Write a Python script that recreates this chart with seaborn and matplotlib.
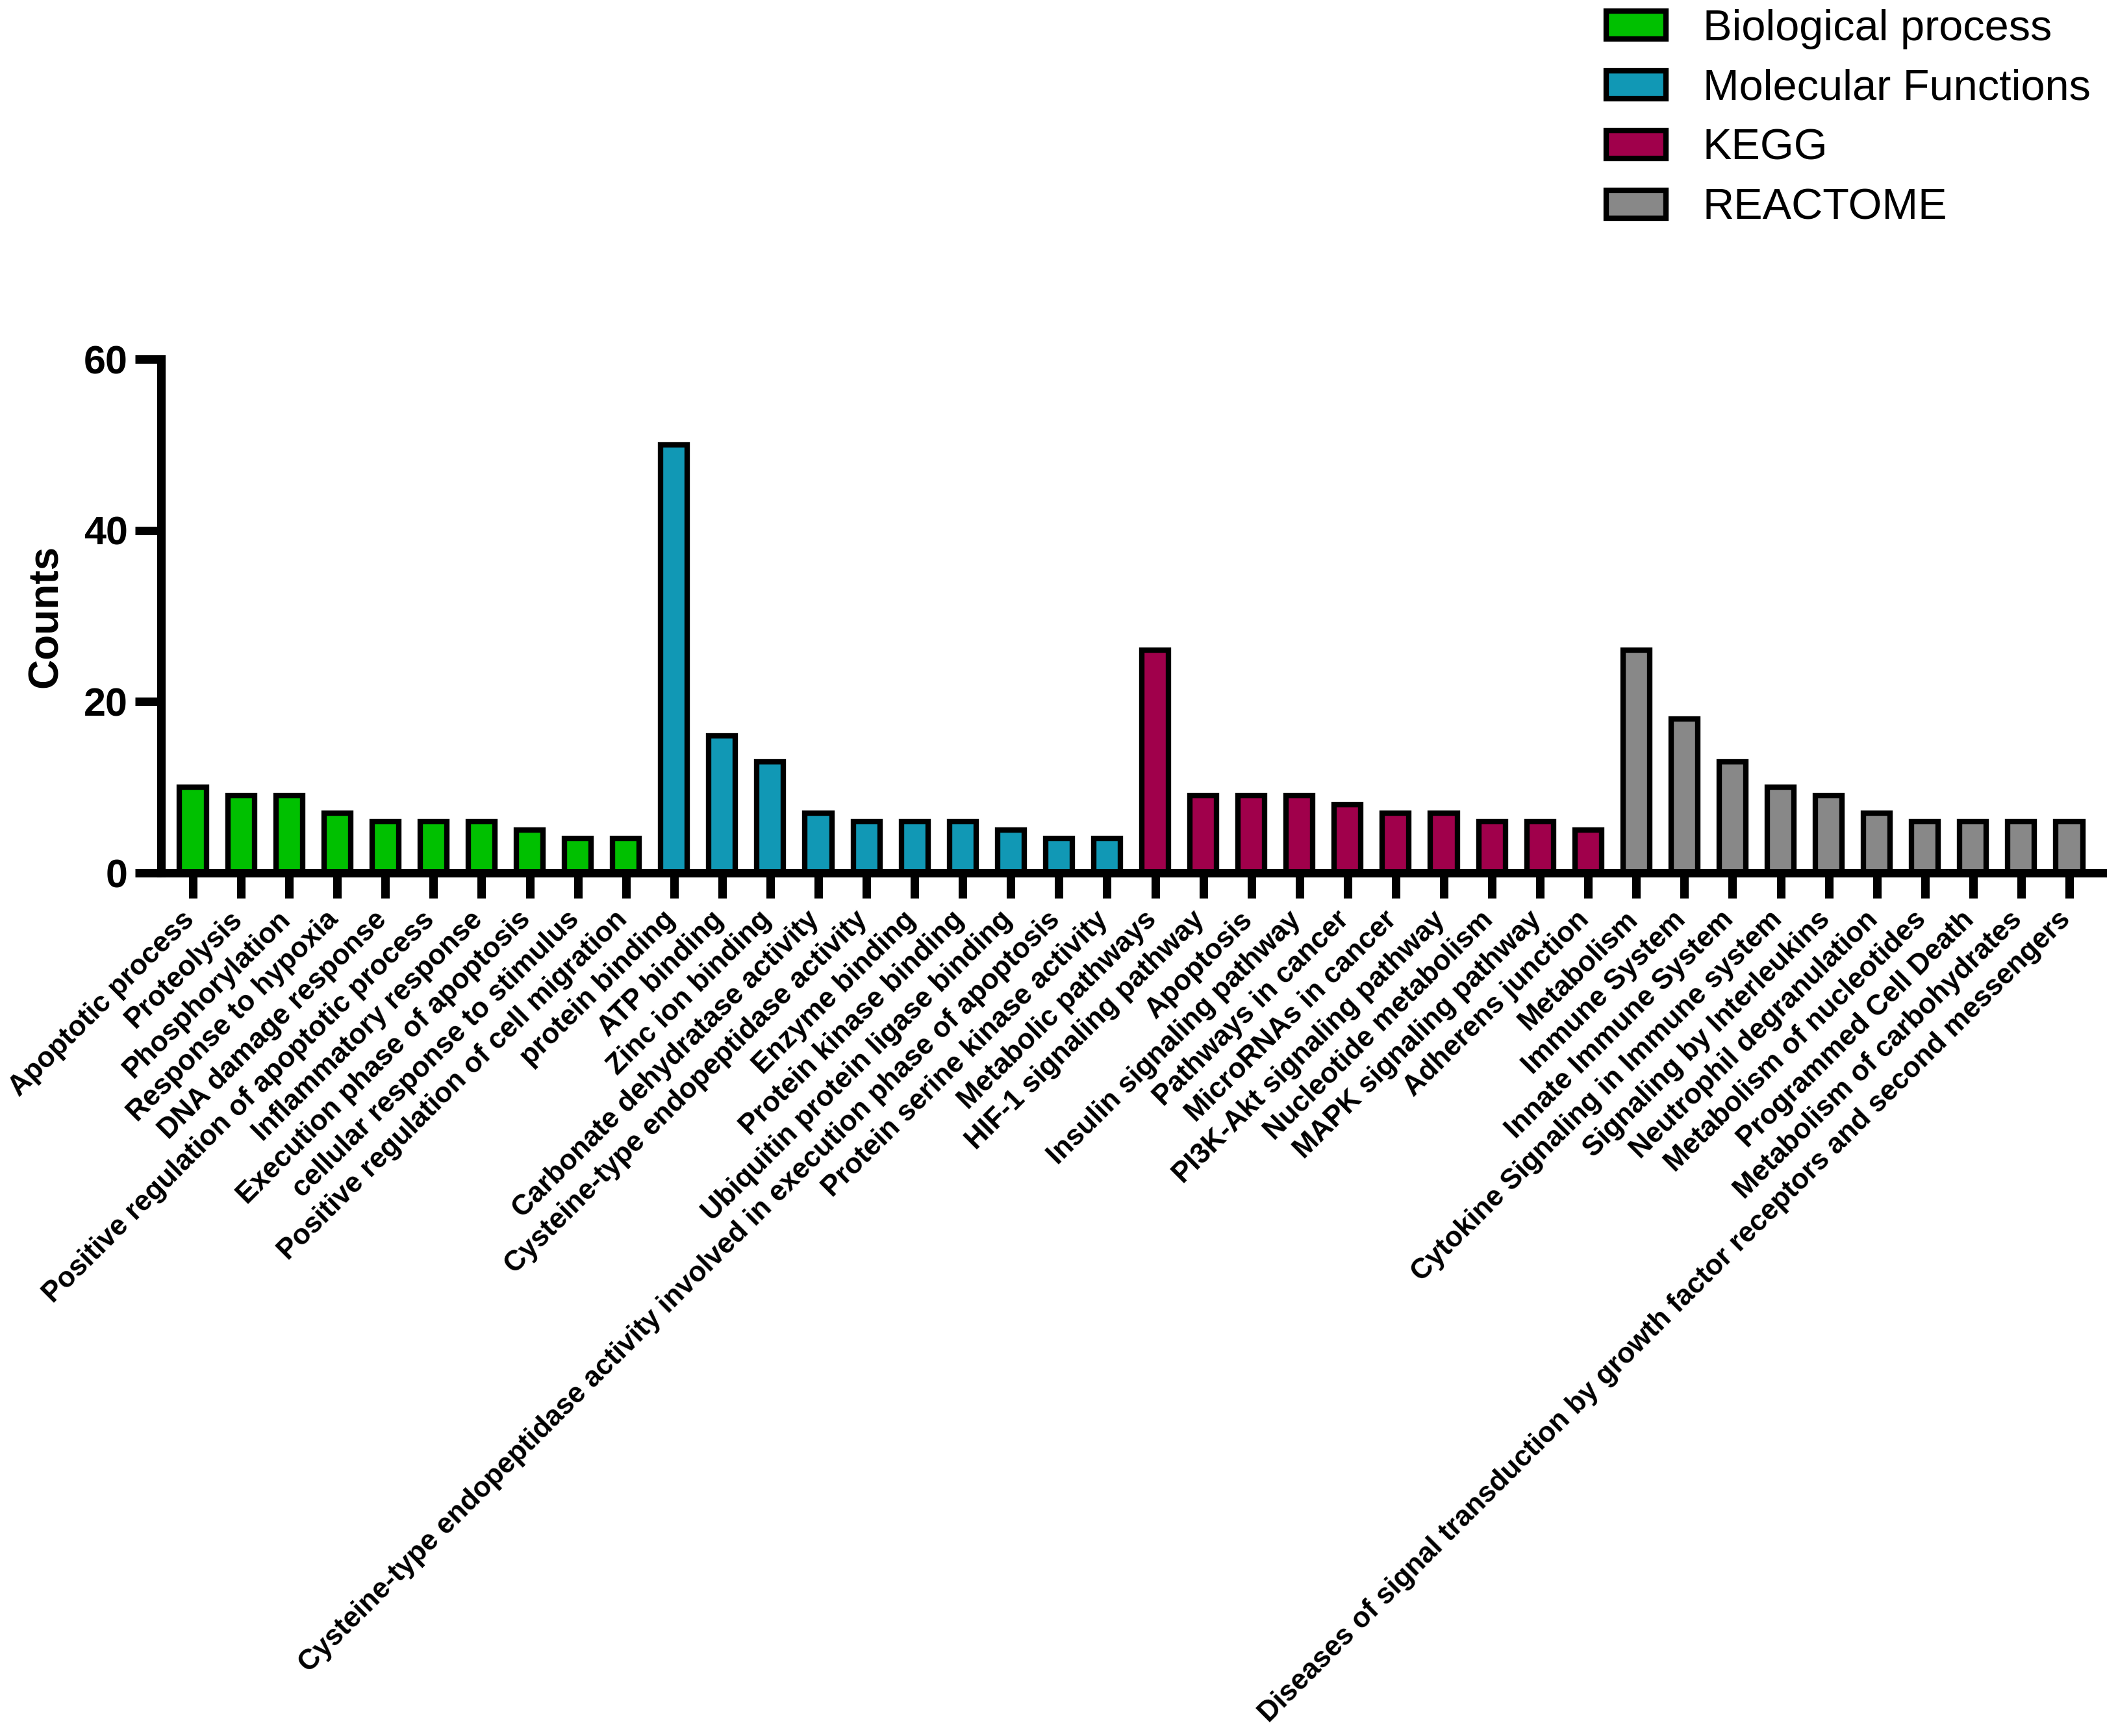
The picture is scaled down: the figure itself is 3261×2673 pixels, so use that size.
import numpy as np
import pandas as pd
import matplotlib
matplotlib.use('Agg')
import matplotlib.pyplot as plt
import matplotlib.transforms as mtransforms
from matplotlib.patches import Patch
import seaborn as sns

# Data
bp_terms = ['Apoptotic process', 'Proteolysis', 'Phosphorylation', 'Response to hypoxia',
            'DNA damage response', 'Positive regulation of apoptotic process',
            'Inflammatory response', 'Execution phase of apoptosis',
            'cellular response to stimulus', 'Positive regulation of cell migration']
bp_counts = [10, 9, 9, 7, 6, 6, 6, 5, 4, 4]

mf_terms = ['protein binding', 'ATP binding', 'Zinc ion binding', 'Carbonate dehydratase activity',
            'Cysteine-type endopeptidase activity', 'Enzyme binding', 'Protein kinase binding',
            'Ubiquitin protein ligase binding',
            'Cysteine-type endopeptidase activity involved in execution phase of apoptosis',
            'Protein serine kinase activity']
mf_counts = [50, 16, 13, 7, 6, 6, 6, 5, 4, 4]

kegg_terms = ['Metabolic pathways', 'HIF-1 signaling pathway', 'Apoptosis',
              'Insulin signaling pathway', 'Pathways in cancer', 'MicroRNAs in cancer',
              'PI3K-Akt signaling pathway', 'Nucleotide metabolism', 'MAPK signaling pathway',
              'Adherens junction']
kegg_counts = [26, 9, 9, 9, 8, 7, 7, 6, 6, 5]

reactome_terms = ['Metabolism', 'Immune System', 'Innate Immune System',
                  'Cytokine Signaling in Immune system', 'Signaling by Interleukins',
                  'Neutrophil degranulation', 'Metabolism of nucleotides', 'Programmed Cell Death',
                  'Metabolism of carbohydrates',
                  'Diseases of signal transduction by growth factor receptors and second messengers']
reactome_counts = [26, 18, 13, 10, 9, 7, 6, 6, 6, 6]

categories = ['Biological process', 'Molecular Functions', 'KEGG', 'REACTOME']
cat_colors = ['#00C000', '#1198B5', '#A0004B', '#888888']
y_ticks = [0, 20, 40, 60]

# Build one long table for seaborn
all_terms = bp_terms + mf_terms + kegg_terms + reactome_terms
all_counts = bp_counts + mf_counts + kegg_counts + reactome_counts
all_cats = ([categories[0]] * len(bp_terms) + [categories[1]] * len(mf_terms)
            + [categories[2]] * len(kegg_terms) + [categories[3]] * len(reactome_terms))
df = pd.DataFrame({'term': all_terms, 'count': all_counts, 'category': all_cats})
palette = dict(zip(categories, cat_colors))

sns.set_style('ticks')
plt.rcParams['font.family'] = ['Liberation Sans', 'DejaVu Sans']
plt.rcParams.update({'text.color': 'black', 'axes.labelcolor': 'black',
                     'xtick.color': 'black', 'ytick.color': 'black'})

W, H, DPI = 3262, 2673, 100
fig = plt.figure(figsize=(W / DPI, H / DPI), dpi=DPI)

ax_left, ax_right, ax_top, ax_bottom = 248, 3237, 553, 1344
ax = fig.add_axes([ax_left / W, 1 - ax_bottom / H,
                   (ax_right - ax_left) / W, (ax_bottom - ax_top) / H])

sns.barplot(data=df, x='term', y='count', hue='category', order=all_terms,
            hue_order=categories, palette=palette, dodge=False, width=0.554,
            edgecolor='black', linewidth=6, saturation=1, legend=False, ax=ax)

unit = 74.05
ax.set_xlim(-(297 - ax_left) / unit, len(all_terms) - 1 + (ax_right - 3186) / unit)
ax.set_ylim(0, 60)
ax.set_yticks(y_ticks)

for side in ['top', 'right']:
    ax.spines[side].set_visible(False)
for side in ['left', 'bottom']:
    ax.spines[side].set_linewidth(9.4)
    ax.spines[side].set_color('black')

ax.tick_params(axis='y', length=29, width=9.4, pad=8, labelsize=44, color='black')
ax.tick_params(axis='x', length=28, width=9.4, pad=9, labelsize=31.5, color='black')
for lbl in ax.get_yticklabels():
    lbl.set_fontweight('bold')

ax.set_xticks(range(len(all_terms)))
ax.set_xticklabels(all_terms, rotation=45, ha='right', fontweight='bold')
shift = mtransforms.ScaledTranslation(10 / DPI, 0, fig.dpi_scale_trans)
for lbl in ax.get_xticklabels():
    lbl.set_transform(lbl.get_transform() + shift)

ax.set_xlabel('')
ax.set_ylabel('Counts', fontsize=46, fontweight='bold')
ax.yaxis.set_label_coords((101 - ax_left) / (ax_right - ax_left), 0.5)

handles = [Patch(facecolor=c, edgecolor='black', linewidth=6) for c in cat_colors]
fig.legend(handles, categories, loc='upper left',
           bbox_to_anchor=(2473 / W, 1 - 14 / H), frameon=False,
           fontsize=48, handlelength=1.38, handleheight=0.6, handletextpad=0.85,
           labelspacing=0.45, borderpad=0, borderaxespad=0)

fig.savefig('out.png', dpi=DPI, facecolor='white')
